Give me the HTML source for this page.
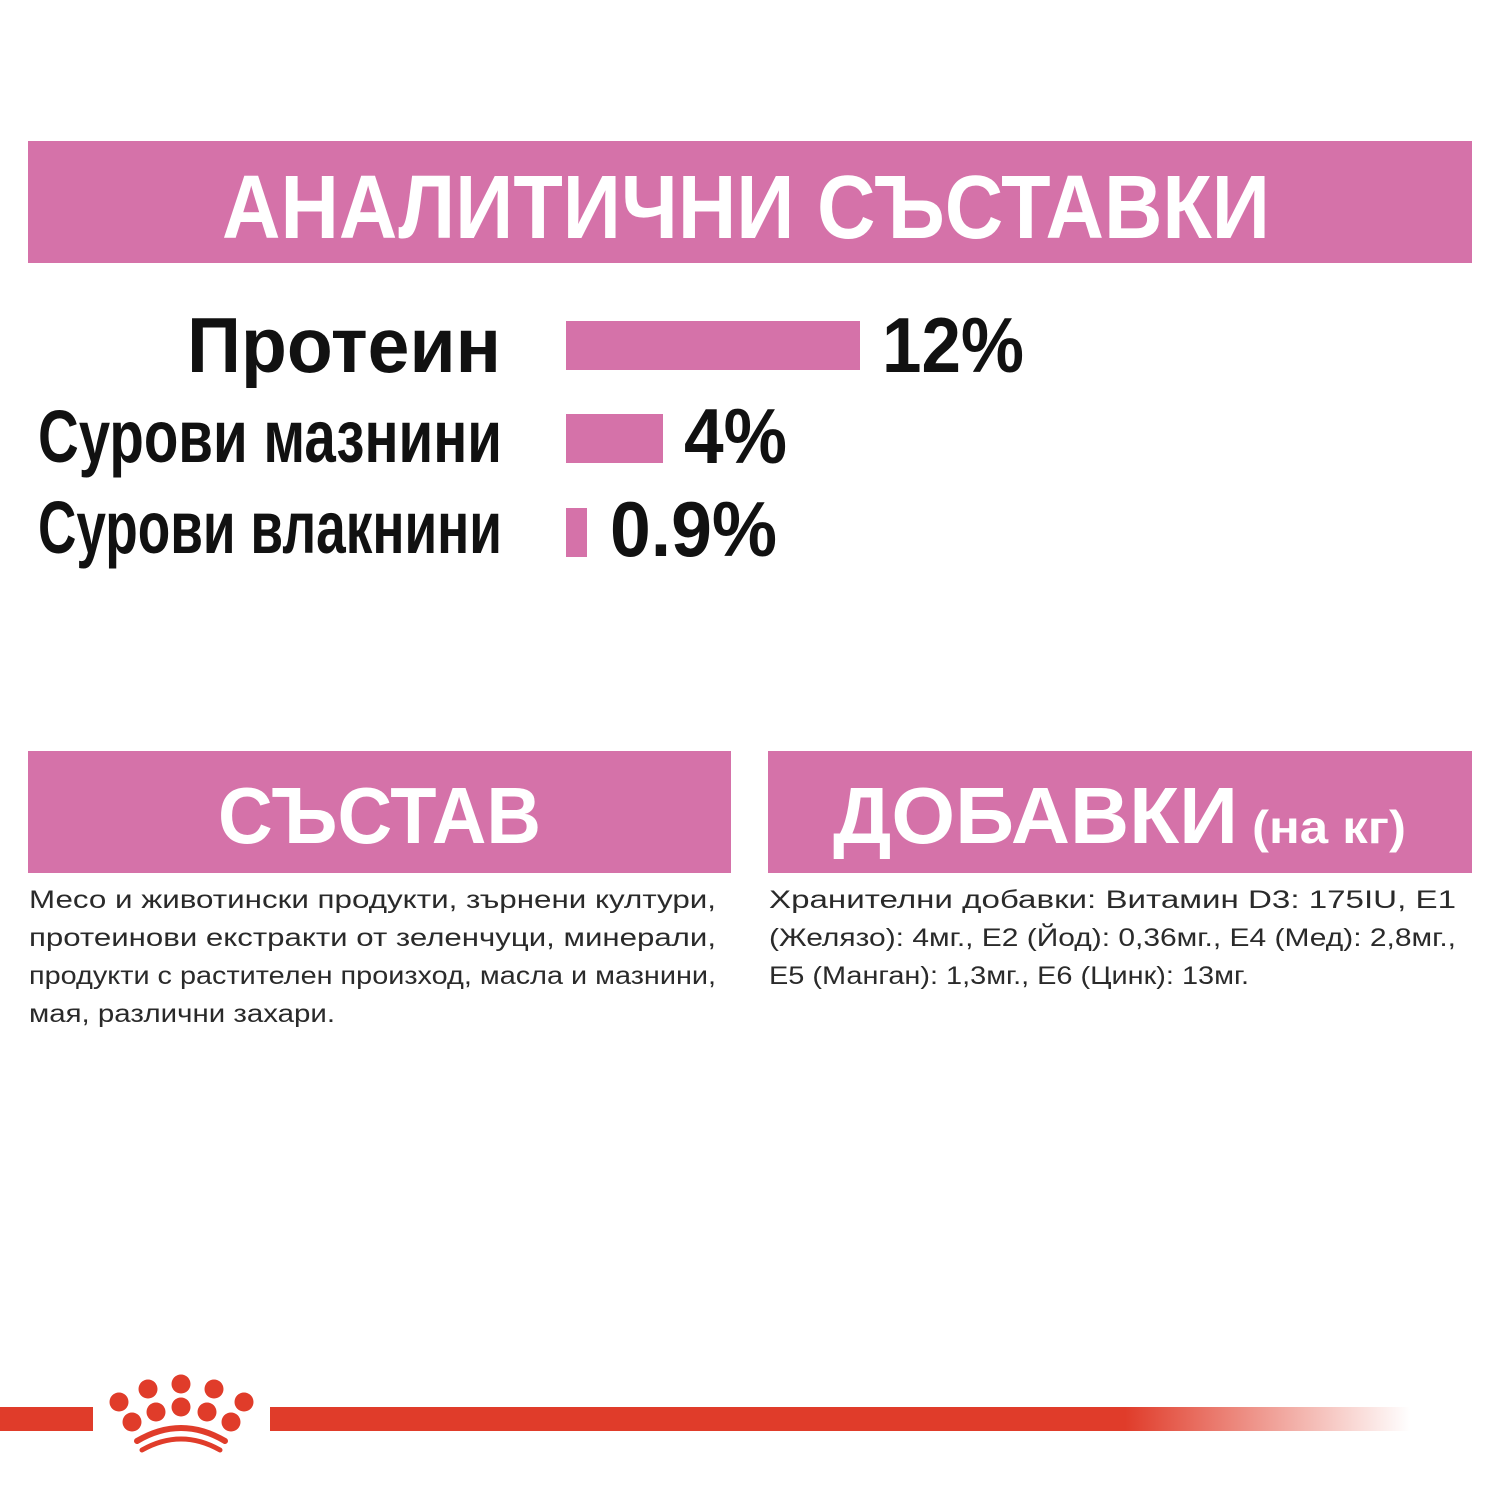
<!DOCTYPE html>
<html><head><meta charset="utf-8"><style>
html,body{margin:0;padding:0;background:#fff;width:1500px;height:1500px;overflow:hidden}
svg{display:block}
.b{font-family:"Liberation Sans",sans-serif;font-weight:bold}
.t{font-family:"Liberation Sans",sans-serif;font-size:25px;fill:#2a2a2a}
</style></head><body>
<svg width="1500" height="1500" viewBox="0 0 1500 1500" xmlns="http://www.w3.org/2000/svg">
<defs><linearGradient id="g" x1="0" x2="1"><stop offset="0" stop-color="#e03c2a"/><stop offset="0.75" stop-color="#e03c2a"/><stop offset="1" stop-color="#e03c2a" stop-opacity="0"/></linearGradient></defs>
<rect x="28" y="141" width="1444" height="122" fill="#d572a9"/>
<text class="b" x="222" y="238" font-size="90" fill="#fff" textLength="1048" lengthAdjust="spacingAndGlyphs">АНАЛИТИЧНИ СЪСТАВКИ</text>

<text class="b" x="187" y="372" font-size="78" fill="#111" textLength="314" lengthAdjust="spacingAndGlyphs">Протеин</text>
<rect x="566" y="321" width="294" height="49" fill="#d572a9"/>
<text class="b" x="882" y="372" font-size="78" fill="#111" textLength="142" lengthAdjust="spacingAndGlyphs">12%</text>

<text class="b" x="38" y="462" font-size="74" fill="#111" textLength="464" lengthAdjust="spacingAndGlyphs">Сурови мазнини</text>
<rect x="566" y="414" width="97" height="49" fill="#d572a9"/>
<text class="b" x="684" y="463" font-size="78" fill="#111" textLength="103" lengthAdjust="spacingAndGlyphs">4%</text>

<text class="b" x="38" y="553" font-size="74" fill="#111" textLength="464" lengthAdjust="spacingAndGlyphs">Сурови влакнини</text>
<rect x="566" y="508" width="21" height="49" fill="#d572a9"/>
<text class="b" x="610" y="556" font-size="78" fill="#111" textLength="167" lengthAdjust="spacingAndGlyphs">0.9%</text>

<rect x="28" y="751" width="703" height="122" fill="#d572a9"/>
<rect x="768" y="751" width="704" height="122" fill="#d572a9"/>
<text class="b" x="218" y="843" font-size="80" fill="#fff" textLength="323" lengthAdjust="spacingAndGlyphs">СЪСТАВ</text>
<text class="b" x="833" y="843" font-size="80" fill="#fff" textLength="405" lengthAdjust="spacingAndGlyphs">ДОБАВКИ</text>
<text class="b" x="1252" y="843" font-size="46" fill="#fff" textLength="154" lengthAdjust="spacingAndGlyphs">(на кг)</text>

<text class="t" x="29" y="908" textLength="687" lengthAdjust="spacingAndGlyphs">Месо и животински продукти, зърнени култури,</text>
<text class="t" x="29" y="946" textLength="687" lengthAdjust="spacingAndGlyphs">протеинови екстракти от зеленчуци, минерали,</text>
<text class="t" x="29" y="984" textLength="687" lengthAdjust="spacingAndGlyphs">продукти с растителен произход, масла и мазнини,</text>
<text class="t" x="29" y="1022" textLength="306" lengthAdjust="spacingAndGlyphs">мая, различни захари.</text>

<text class="t" x="769" y="908" textLength="687" lengthAdjust="spacingAndGlyphs">Хранителни добавки: Витамин D3: 175IU, E1</text>
<text class="t" x="769" y="946" textLength="687" lengthAdjust="spacingAndGlyphs">(Желязо): 4мг., E2 (Йод): 0,36мг., E4 (Мед): 2,8мг.,</text>
<text class="t" x="769" y="984" textLength="480" lengthAdjust="spacingAndGlyphs">E5 (Манган): 1,3мг., E6 (Цинк): 13мг.</text>

<rect x="0" y="1407" width="93" height="24" fill="#e03c2a"/>
<rect x="270" y="1407" width="1140" height="24" fill="url(#g)"/>
<g fill="#e03c2a">
<circle cx="119" cy="1402" r="9.5"/><circle cx="148" cy="1389" r="9.5"/><circle cx="181" cy="1384" r="9.5"/><circle cx="214" cy="1389" r="9.5"/><circle cx="244" cy="1402" r="9.5"/>
<circle cx="132" cy="1422" r="9.5"/><circle cx="156" cy="1412" r="9.5"/><circle cx="181" cy="1407" r="9.5"/><circle cx="207" cy="1412" r="9.5"/><circle cx="231" cy="1422" r="9.5"/>
</g>
<path d="M137 1441 Q181 1415 225 1441" stroke="#e03c2a" stroke-width="6" fill="none" stroke-linecap="round"/>
<path d="M142 1450 Q181 1428 220 1450" stroke="#e03c2a" stroke-width="5" fill="none" stroke-linecap="round"/>
</svg>
</body></html>
